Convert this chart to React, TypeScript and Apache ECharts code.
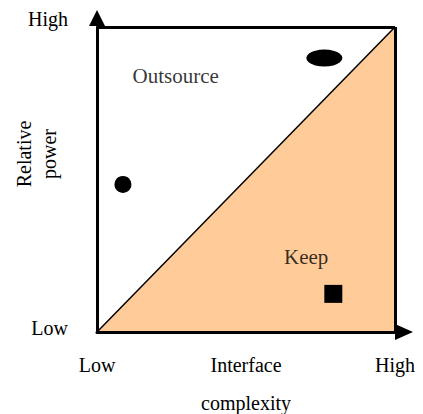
import React, { useEffect, useRef } from "react";
import * as echarts from "echarts";

// Axis tick labels
const xTickLabels = ["Low", "High"];
const yTickLabels = ["Low", "High"];
const xAxisName = "Interface\ncomplexity";
const yAxisName = "Relative\npower";

// Diagonal boundary (area below = "Keep" region)
const boundaryX = [0, 1];
const boundaryY = [0, 1];

// Region labels
const regionNames = ["Outsource", "Keep"];
const regionX = [0.264, 0.702];
const regionY = [0.839, 0.247];

// Markers
const markerNames = ["ellipse", "dot", "square"];
const markerX = [0.763, 0.087, 0.793];
const markerY = [0.898, 0.484, 0.125];

const FONT = "Liberation Serif, Times New Roman, serif";

export default function App() {
  const ref = useRef<HTMLDivElement>(null);

  useEffect(() => {
    if (!ref.current) return;
    const chart = echarts.init(ref.current, null, { renderer: "svg" });

    const markerSymbols = ["circle", "circle", "rect"];
    const markerSizes: any[] = [[36, 17], 17, 18];

    const axisCommon = {
      type: "value",
      min: 0,
      max: 1,
      interval: 1,
      z: 10,
      axisTick: { show: false },
      splitLine: { show: true, lineStyle: { color: "#000", width: 3 } },
    };

    chart.setOption({
      animation: false,
      backgroundColor: "#fff",
      grid: {
        left: 97,
        right: 28,
        top: 27,
        bottom: 82,
        containLabel: false,
        outerBoundsMode: "none",
      },
      xAxis: {
        ...axisCommon,
        axisLine: {
          show: true,
          lineStyle: { color: "#000", width: 3 },
          symbol: ["none", "triangle"],
          symbolSize: [16, 18],
          symbolOffset: [0, 9],
        },
        axisLabel: {
          formatter: (v: number) => (v === 0 ? xTickLabels[0] : xTickLabels[1]),
          margin: 23,
          color: "#000",
          fontFamily: FONT,
          fontSize: 20,
          verticalAlign: "top",
        },
        name: xAxisName,
        nameLocation: "middle",
        nameGap: 14,
        nameMoveOverlap: false,
        nameTextStyle: {
          color: "#000",
          fontFamily: FONT,
          fontSize: 20,
          lineHeight: 38,
          verticalAlign: "top",
        },
      },
      yAxis: {
        ...axisCommon,
        axisLine: {
          show: true,
          lineStyle: { color: "#000", width: 3 },
          symbol: ["none", "triangle"],
          symbolSize: [16, 16],
          symbolOffset: [0, 9],
        },
        axisLabel: {
          formatter: (v: number) =>
            v === 0 ? `{lo|${yTickLabels[0]}}` : `{hi|${yTickLabels[1]}}`,
          margin: 29,
          color: "#000",
          fontFamily: FONT,
          fontSize: 20,
          verticalAlign: "middle",
          rich: {
            lo: {
              color: "#000",
              fontFamily: FONT,
              fontSize: 20,
              padding: [0, 0, 8, 0],
            },
            hi: {
              color: "#000",
              fontFamily: FONT,
              fontSize: 20,
              padding: [0, 0, 16, 0],
            },
          },
        },
      },
      graphic: [
        {
          type: "text",
          x: 36,
          y: 154,
          rotation: Math.PI / 2,
          style: {
            text: yAxisName,
            fill: "#000",
            font: `20px ${FONT}`,
            lineHeight: 25,
            align: "center",
            verticalAlign: "middle",
          },
        },
      ],
      series: [
        {
          type: "line",
          data: boundaryX.map((x, i) => [x, boundaryY[i]]),
          symbol: "none",
          lineStyle: { color: "#000", width: 1.5 },
          areaStyle: { color: "#FFCC99", opacity: 1 },
          z: 1,
          silent: true,
        },
        {
          type: "scatter",
          data: regionNames.map((n, i) => ({ name: n, value: [regionX[i], regionY[i]] })),
          symbolSize: 1,
          itemStyle: { color: "rgba(0,0,0,0)" },
          label: {
            show: true,
            position: "inside",
            formatter: "{b}",
            color: "#000",
            textBorderWidth: 0,
            fontFamily: FONT,
            fontSize: 21,
          },
          silent: true,
          z: 3,
        },
        {
          type: "scatter",
          data: markerNames.map((n, i) => ({
            name: n,
            value: [markerX[i], markerY[i]],
            symbol: markerSymbols[i],
            symbolSize: markerSizes[i],
          })),
          itemStyle: { color: "#000", opacity: 1 },
          silent: true,
          z: 4,
        },
      ],
    });

    return () => chart.dispose();
  }, []);

  return (
    <div
      ref={ref}
      style={{ position: "fixed", left: 0, top: 0, width: 423, height: 414, background: "#fff" }}
    />
  );
}
